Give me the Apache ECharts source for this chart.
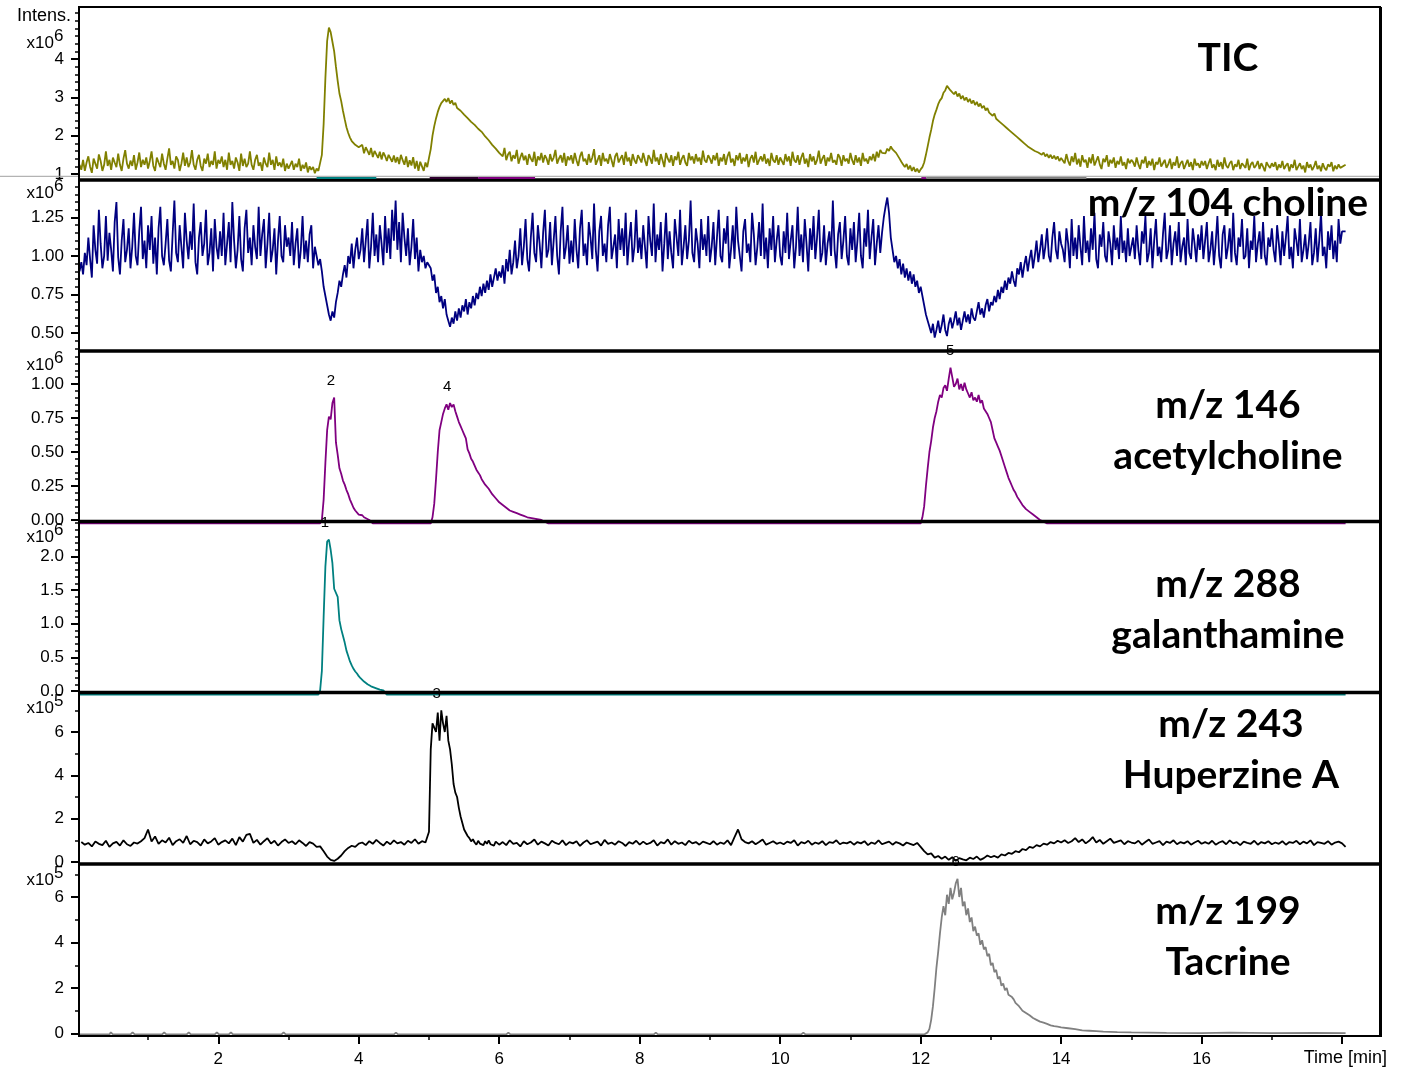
<!DOCTYPE html>
<html><head><meta charset="utf-8">
<script src="https://cdn.jsdelivr.net/npm/echarts@6/dist/echarts.min.js"></script>
<style>html,body{margin:0;padding:0;background:#fff}#c{width:1406px;height:1072px}</style>
</head><body><div id="c"></div><script>
// ---------------- DATA ----------------
// Noisy traces: chunk k covers (k, k+1] min; 40 values -> 0.025 min step, 20 values -> 0.05 min step
// TIC, units 0.01 x10^6
const ticChunks = [
 [124,111,137,108,130,146,119,103,140,127,114,151,134,108,124,159,121,137,111,143,130,118,153,124,108,140,162,127,114,135,121,149,111,130,156,118,137,124,143,114],
 [134,159,121,108,143,130,118,153,127,111,140,167,124,134,114,146,137,108,127,156,121,143,118,130,162,124,111,137,150,121,108,140,127,153,118,134,124,159,114,137],
 [127,146,118,137,111,156,124,134,114,143,130,108,153,121,140,118,127,159,124,111,137,150,121,130,108,143,127,118,156,124,137,111,146,121,130,118,140,108,127,114],
 [124,134,111,127,118,140,108,124,114,130,104,120,111,118,102,114,108,111,150,230,350,447,482,470,445,420,380,343,310,290,265,243,222,207,195,186,182,176,180,170],
 [165,176,154,170,160,150,168,144,160,151,142,158,138,156,147,134,150,141,132,148,130,144,126,150,136,124,146,118,136,122,144,114,134,108,132,120,108,130,118,142],
 [165,200,225,245,262,275,285,290,296,288,298,284,292,280,286,272,276,265,268,255,258,246,250,236,240,228,232,218,222,210,206,198,200,188,184,176,172,166,162,155],
 [155,146,168,136,151,158,133,149,140,163,127,143,155,136,148,124,152,140,132,158,121,146,136,155,130,149,140,124,152,133,143,163,127,140,149,130,155,121,146,136],
 [149,127,155,136,121,146,158,133,140,124,152,130,143,165,124,136,149,121,155,133,140,127,152,136,118,146,155,130,140,149,124,158,133,143,121,152,136,127,149,140],
 [130,155,136,121,149,140,127,163,133,143,124,152,136,118,155,140,130,149,121,146,136,158,124,140,149,130,121,155,136,146,127,152,133,143,124,161,136,130,149,140],
 [127,149,136,155,121,143,133,152,124,146,158,130,140,121,149,136,155,127,143,133,152,118,140,149,130,158,124,136,146,133,152,127,140,121,155,136,130,149,124,143],
 [140,124,152,133,146,121,158,136,130,149,124,143,155,127,140,118,152,133,146,124,136,161,127,140,149,121,143,133,155,130,136,124,152,143,121,149,133,140,127,155],
 [136,124,149,130,143,121,155,133,140,127,146,136,152,133,158,143,163,155,160,154,166,160,172,164,168,155,150,140,132,125,118,126,112,122,108,118,106,114,104,112],
 [118,130,150,172,195,215,238,255,268,282,292,298,312,318,330,325,318,322,308,315,302,310,296,304,292,300,288,296,284,292,280,288,276,284,272,278,266,272,260,264],
 [252,258,244,248,236,240,228,232,220,224,212,215,204,206,196,198,188,190,180,182,172,176,166,170,160,164,156,160,150,156,146,152,142,150,140,148,138,146,134,142],
 [143,128,152,134,122,146,131,155,125,140,119,149,131,137,116,143,128,152,122,134,146,125,113,140,131,149,119,137,128,143,116,134,125,146,122,131,113,140,128,137],
 [131,119,143,125,113,137,128,146,116,134,122,140,110,131,125,143,119,128,137,116,125,140,113,131,122,146,116,128,134,113,125,137,119,131,110,140,122,128,116,134],
 [122,134,113,128,140,116,125,110,137,119,131,113,143,122,116,128,134,110,125,119,137,113,128,122,116,140,110,125,131,116,122,134,113,128,119,107,131,122,116,128],
 [119,131,110,125,116,134,113,122,128,107,125,116,137,110,119,128,113,122,104,131,116,125,110,119,134,113,122,107,128,116,110,125,119,131,107,122,113,125,116,119],
 [124]
];
// m/z 104 choline, units 0.01 x10^6
const cholineChunks = [
 [90,96,88,102,94,112,98,86,120,104,95,130,108,92,100,126,97,115,104,90,122,135,99,88,110,124,96,104,118,92,106,128,100,94,116,132,98,110,92,120],
 [104,126,95,112,88,118,132,100,94,108,124,97,90,114,136,102,96,120,106,92,128,110,98,116,104,134,96,88,112,122,100,108,130,94,102,118,90,124,106,98],
 [116,100,128,94,108,122,96,135,110,92,104,126,98,90,118,130,102,112,94,120,106,98,132,100,114,124,92,108,128,96,104,118,88,110,126,100,96,120,106,112],
 [100,122,94,108,118,92,104,126,98,110,96,114,120,92,106,100,94,98,90,80,74,68,62,58,64,60,70,76,84,80,88,94,86,100,95,108,92,104,112,98],
 [104,118,96,110,124,92,106,128,100,114,96,120,108,94,126,102,118,98,130,110,136,104,122,96,128,112,100,118,94,106,124,98,112,90,104,96,100,92,96,94],
 [92,84,88,76,80,70,74,66,72,62,58,54,60,56,64,58,66,60,68,64,72,62,70,66,74,68,76,72,80,74,82,76,84,78,88,80,86,92,84,90],
 [86,94,82,98,90,104,88,96,110,92,100,118,94,106,124,98,90,112,128,102,96,120,108,92,115,130,99,104,122,94,110,126,100,88,116,132,98,106,120,95],
 [110,96,124,104,92,118,130,100,108,94,122,112,98,134,104,90,116,126,100,108,96,120,132,98,106,114,92,124,104,118,100,128,94,110,122,96,106,130,102,112],
 [98,120,106,92,126,110,100,134,96,114,104,122,90,108,128,98,116,102,92,124,112,100,130,94,106,120,98,110,136,102,96,118,108,92,124,104,114,100,126,96],
 [106,122,94,112,130,100,96,118,108,126,92,104,120,98,132,110,100,90,116,124,102,108,96,128,114,94,106,122,100,134,98,112,92,118,104,126,96,110,120,100],
 [94,116,102,128,98,110,120,92,106,132,100,114,96,124,108,90,118,104,126,98,112,130,96,102,120,94,108,116,100,136,104,92,114,122,98,110,126,100,94,118],
 [104,122,96,110,128,100,92,118,106,130,98,112,124,94,108,120,102,115,125,132,138,128,112,104,96,100,92,98,88,95,86,92,84,90,82,88,80,84,76,80],
 [74,68,62,58,54,50,56,47,52,58,50,55,62,52,48,56,60,53,58,64,55,60,52,58,64,57,62,56,66,60,58,64,70,62,66,60,68,72,64,70],
 [68,74,70,78,72,80,76,84,78,86,82,90,84,80,92,88,96,86,94,100,90,98,104,92,100,110,96,104,114,98,106,118,100,96,112,122,104,98,116,108],
 [104,96,118,108,92,124,100,112,98,120,106,94,126,102,110,96,118,104,128,98,92,114,106,122,100,96,116,108,94,120,104,112,98,126,102,110,96,118,100,106],
 [112,98,120,104,94,116,108,126,96,102,118,92,110,124,100,106,96,114,128,98,104,120,94,108,116,100,122,96,106,112,94,124,102,98,118,108,96,114,104,120],
 [98,110,122,96,104,116,94,108,126,100,92,114,120,98,106,118,96,128,102,94,112,106,124,98,100,118,92,110,104,126,96,108,116,98,122,100,94,112,106,118],
 [104,96,120,108,94,116,100,112,126,98,106,92,118,110,100,124,96,104,114,98,108,122,94,102,118,96,110,128,100,106,92,116,104,120,98,110,96,124,108,116],
 [116]
];
// m/z 243 Huperzine A, units 0.01 x10^5
const huperzineChunks = [
 [92,80,88,72,95,84,78,98,70,86,93,76,100,82,74,90,85,96,110,150],
 [95,118,84,100,90,112,78,96,105,88,120,82,98,92,76,104,86,95,110,80],
 [92,100,86,108,78,115,94,125,130,88,102,80,96,110,85,98,76,92,104,88],
 [96,82,100,88,74,92,85,70,72,50,25,10,5,15,30,50,65,75,70,85],
 [90,78,96,84,102,88,76,94,82,100,86,92,80,98,88,105,84,96,90,140],
 [520,640,620,600,690,560,700,640,600,675,560,520,450,360,320,300,250,210,180,150,
  135,120,110,95,105,90,80,98,85,92,78,96,84,100,82,90,76,94,86,80],
 [92,78,100,84,88,72,96,82,90,104,80,94,86,76,98,88,82,100,78,92],
 [86,96,74,90,100,82,88,94,76,102,84,90,80,96,88,74,92,84,98,80],
 [94,82,88,100,76,92,86,104,80,96,84,90,78,98,86,92,80,94,88,82],
 [96,80,90,84,100,78,115,150,105,92,86,96,82,92,104,80,88,96,84,90],
 [82,94,88,100,76,92,86,98,80,90,84,96,78,92,88,100,82,90,86,94],
 [80,92,86,96,78,90,84,100,82,88,94,80,92,86,76,90,84,78,88,70],
 [50,35,40,20,28,15,25,10,22,5,18,12,8,20,14,25,10,18,30,22],
 [28,20,35,30,42,38,50,45,60,55,70,65,78,72,85,80,92,86,98,90],
 [100,88,96,110,92,104,86,98,115,90,102,84,96,108,88,94,100,82,96,90],
 [86,98,80,92,104,84,90,96,78,94,88,100,82,92,86,96,80,90,98,84],
 [92,84,98,80,90,96,82,100,86,92,78,94,88,84,98,80,92,86,96,82],
 [90,84,96,80,92,88,98,82,94,86,100,78,92,88,84,96,80,90,94,86],
 [70]
];
// m/z 146 acetylcholine [time min, intensity x10^6]
const achPoints = [
 [0.03,-0.025],[3.45,-0.025],[3.475,0.0],[3.5,0.15],[3.525,0.42],[3.55,0.66],[3.575,0.76],[3.6,0.74],[3.625,0.86],[3.65,0.9],[3.675,0.57],[3.7,0.48],[3.725,0.38],[3.75,0.34],[3.775,0.29],[3.8,0.26],[3.825,0.22],[3.85,0.19],[3.875,0.15],[3.9,0.12],[3.925,0.09],[3.95,0.07],[3.975,0.06],[4.0,0.04],[4.025,0.03],[4.05,0.035],[4.075,0.02],[4.1,0.015],[4.15,0.0],[4.2,-0.025],
 [5.025,-0.025],[5.05,0.02],[5.075,0.12],[5.1,0.3],[5.125,0.5],[5.15,0.66],[5.175,0.72],[5.2,0.78],[5.225,0.82],[5.25,0.85],[5.275,0.81],[5.3,0.86],[5.325,0.83],[5.35,0.85],[5.375,0.8],[5.4,0.76],[5.425,0.72],[5.45,0.69],[5.475,0.66],[5.5,0.63],[5.525,0.6],[5.55,0.52],[5.575,0.49],[5.6,0.45],[5.625,0.43],[5.65,0.4],[5.675,0.37],[5.7,0.35],[5.725,0.33],[5.75,0.3],[5.775,0.29],[5.8,0.26],[5.825,0.25],[5.85,0.23],[5.875,0.22],[5.9,0.19],[5.925,0.18],[5.95,0.16],[5.975,0.15],[6.0,0.13],[6.05,0.11],[6.1,0.09],[6.15,0.07],[6.2,0.06],[6.25,0.05],[6.3,0.04],[6.35,0.03],[6.4,0.02],[6.5,0.01],[6.6,0.0],[6.7,-0.025],
 [12.0,-0.025],[12.025,0.02],[12.05,0.1],[12.075,0.25],[12.1,0.38],[12.125,0.5],[12.15,0.58],[12.175,0.68],[12.2,0.75],[12.225,0.8],[12.25,0.87],[12.275,0.92],[12.3,0.9],[12.325,0.97],[12.35,0.99],[12.375,0.95],[12.4,1.04],[12.425,1.12],[12.45,1.05],[12.475,0.98],[12.5,1.0],[12.525,1.04],[12.55,0.96],[12.575,1.0],[12.6,0.95],[12.625,1.01],[12.65,0.96],[12.675,0.93],[12.7,0.9],[12.725,0.94],[12.75,0.88],[12.775,0.9],[12.8,0.87],[12.825,0.92],[12.85,0.86],[12.875,0.88],[12.9,0.82],[12.925,0.8],[12.95,0.78],[12.975,0.75],[13.0,0.72],[13.025,0.66],[13.05,0.6],[13.075,0.57],[13.1,0.54],[13.125,0.51],[13.15,0.47],[13.175,0.43],[13.2,0.39],[13.225,0.35],[13.25,0.31],[13.275,0.28],[13.3,0.25],[13.325,0.22],[13.35,0.2],[13.375,0.17],[13.4,0.15],[13.45,0.11],[13.5,0.08],[13.55,0.06],[13.6,0.04],[13.65,0.02],[13.7,0.0],[13.8,-0.025],[18.05,-0.025]
];
// m/z 288 galanthamine [time, x10^6]
const galPoints = [
 [0.03,-0.055],[3.425,-0.055],[3.45,0.01],[3.475,0.3],[3.5,1.1],[3.525,1.85],[3.55,2.22],[3.575,2.25],[3.6,2.1],[3.625,1.9],[3.65,1.52],[3.675,1.5],[3.7,1.4],[3.725,1.05],[3.75,0.92],[3.775,0.82],[3.8,0.72],[3.825,0.6],[3.85,0.52],[3.875,0.44],[3.9,0.38],[3.925,0.33],[3.95,0.29],[3.975,0.26],[4.0,0.22],[4.025,0.19],[4.05,0.17],[4.075,0.14],[4.1,0.12],[4.125,0.1],[4.15,0.09],[4.175,0.07],[4.2,0.06],[4.25,0.04],[4.3,0.02],[4.35,0.01],[4.4,-0.055],[18.05,-0.055]
];
// m/z 199 tacrine [time, x10^5]
const tacPoints = [
 [0.03,-0.04],[0.45,-0.04],[0.47,0.05],[0.5,-0.04],[0.75,-0.04],[0.78,0.05],[0.81,-0.04],[1.2,-0.04],[1.23,0.05],[1.26,-0.04],[1.55,-0.04],[1.58,0.05],[1.61,-0.04],[1.95,-0.04],[1.98,0.05],[2.01,-0.04],[2.15,-0.04],[2.18,0.05],[2.21,-0.04],[2.9,-0.04],[2.93,0.05],[2.96,-0.04],[4.5,-0.04],[4.53,0.04],[4.56,-0.04],[6.1,-0.04],[6.13,0.04],[6.16,-0.04],[8.2,-0.04],[8.23,0.04],[8.26,-0.04],[10.3,-0.04],[10.33,0.04],[10.36,-0.04],[12.05,-0.04],
 [12.1,0.05],[12.125,0.2],[12.15,0.6],[12.175,1.2],[12.2,2.0],[12.225,2.9],[12.25,3.6],[12.275,4.4],[12.3,5.1],[12.325,5.6],[12.35,5.2],[12.375,6.1],[12.4,5.7],[12.425,6.4],[12.45,5.9],[12.475,6.2],[12.5,6.6],[12.525,6.8],[12.55,6.0],[12.575,6.4],[12.6,5.6],[12.625,5.8],[12.65,5.2],[12.675,5.5],[12.7,4.9],[12.725,5.1],[12.75,4.5],[12.775,4.7],[12.8,4.3],[12.825,4.4],[12.85,3.9],[12.875,4.1],[12.9,3.7],[12.925,3.8],[12.95,3.4],[12.975,3.5],[13.0,3.0],[13.025,3.1],[13.05,2.7],[13.075,2.8],[13.1,2.4],[13.125,2.5],[13.15,2.1],[13.175,2.2],[13.2,1.9],[13.225,2.0],[13.25,1.7],[13.275,1.75],[13.3,1.6],[13.325,1.5],[13.35,1.35],[13.375,1.4],[13.4,1.2],[13.45,1.0],[13.5,0.9],[13.55,0.8],[13.6,0.68],[13.65,0.6],[13.7,0.52],[13.75,0.48],[13.8,0.42],[13.85,0.36],[13.9,0.32],[13.95,0.3],[14.0,0.27],[14.1,0.23],[14.2,0.19],[14.3,0.14],[14.4,0.12],[14.5,0.1],[14.6,0.08],[14.8,0.06],[15.0,0.05],[15.5,0.03],[16.0,0.02],[16.4,0.04],[17.0,0.02],[17.6,0.03],[18.05,0.02]
];
// integration ranges shown under the TIC [start, end] min
const integrationRanges = [[3.40,4.25],[5.01,5.70],[5.70,6.51],[12.01,12.08],[12.08,14.36]];
const integrationColors = ['#008080','#300030','#800080','#800080','#808080'];
// peak labels: [text, panel, time, apex intensity]
const peakLabels = [['1',3,3.52,2.25],['2',2,3.605,0.9],['3',4,5.11,7.0],['4',2,5.26,0.86],['5',2,12.42,1.12],['6',5,12.5,6.8]];
// axes ticks
const yMajor = [[1,2,3,4],[0.5,0.75,1,1.25],[0,0.25,0.5,0.75,1],[0,0.5,1,1.5,2],[0,2,4,6],[0,2,4,6]];
const yDecimals = [0,2,2,1,0,0];
const yMinorStep = [0.2,0.05,0.05,0.1,1,1];
const yExponent = ['6','6','6','6','5','5'];
const xMajor = [2,4,6,8,10,12,14,16,18];
const xMinor = [1,3,5,7,9,11,13,15,17];
const xLabels = [2,4,6,8,10,12,14,16];
const titleLines = [['TIC'],['m/z 104 choline'],['m/z 146','acetylcholine'],['m/z 288','galanthamine'],['m/z 243','Huperzine A'],['m/z 199','Tacrine']];

// ---------------- LAYOUT ----------------
const FONT = '"Liberation Sans", Arial, sans-serif';
const TFONT = 'bold 39px Lato, "Open Sans", sans-serif';
const L = 79, W = 1301;
const edges = [7, 180, 351, 521.5, 692.5, 864, 1036];
const yRange = [[0.843,5.357],[0.383,1.4935],[-0.011,1.2426],[-0.0223,2.52],[-0.092,7.822],[-0.11,7.451]];
const xMin = 0.017, xMax = 18.54;
const colors = ['#808000','#000080','#800080','#008080','#000000','#808080'];
const titleX = [1228,1228,1228,1228,1231,1228];
const titleY = [[58],[203],[405,456],[584,635],[724,775],[911,962]];
const expY = [43,193,365,537,708,880];

function expand(chunks, scale) {
  const out = [];
  chunks.forEach((c, k) => {
    const step = c.length >= 20 ? 1 / c.length : 0.05;
    c.forEach((v, j) => out.push([+(k + (j + 1) * step).toFixed(4), +(v * scale).toFixed(4)]));
  });
  return out;
}
const seriesData = [expand(ticChunks, 0.01), expand(cholineChunks, 0.01), achPoints, galPoints, expand(huperzineChunks, 0.01), tacPoints];

const grids = [], xAxes = [], yAxes = [], series = [], graphic = [];
for (let i = 0; i < 6; i++) {
  grids.push({left: L, width: W, top: edges[i], height: edges[i+1] - edges[i]});
  xAxes.push({type:'value', gridIndex:i, min:xMin, max:xMax, show: i === 5, position:'bottom',
    axisLine:{show:true, onZero:false, lineStyle:{color:'#000', width:2}},
    axisTick:{show:true, length:8, customValues:xMajor, lineStyle:{color:'#000', width:2}},
    axisLabel:{show:true, customValues:xLabels, margin:15, fontSize:17, fontFamily:FONT, color:'#000'},
    splitLine:{show:false}});
  const [mn, mx] = yRange[i];
  const minor = [];
  const st = yMinorStep[i];
  for (let v = Math.ceil(mn / st) * st; v <= mx + 1e-9; v += st) minor.push(+v.toFixed(4));
  yAxes.push({type:'value', gridIndex:i, min:mn, max:mx, position:'left',
    axisLine:{show:false, onZero:false}, splitLine:{show:false},
    axisTick:{show:true, length:8, customValues:yMajor[i], lineStyle:{color:'#000', width:2}},
    axisLabel:{show:true, customValues:yMajor[i], margin:15, fontSize:17, fontFamily:FONT, color:'#000',
      formatter: (v) => Number(v).toFixed(yDecimals[i])}});
  yAxes.push({type:'value', gridIndex:i, min:mn, max:mx, position:'left',
    axisLine:{show:false, onZero:false}, splitLine:{show:false}, axisLabel:{show:false},
    axisTick:{show:true, length:4, customValues:minor, lineStyle:{color:'#000', width:1.5}}});
  const mp = peakLabels.filter(p => p[1] === i).map(p => ({name:p[0], coord:[p[2], p[3]]}));
  series.push({type:'line', xAxisIndex:i, yAxisIndex:2*i, data:seriesData[i], showSymbol:false, symbol:'none',
    clip: !(i === 2 || i === 3), z: 3,
    lineStyle:{color:colors[i], width:1.8}, itemStyle:{color:colors[i]}, animation:false,
    markPoint: mp.length ? {symbol:'circle', symbolSize:2, silent:true, z:8, itemStyle:{color:'rgba(0,0,0,0)'},
      label:{show:true, position:'top', distance:8, color:'#000', fontSize:15, fontFamily:FONT, formatter:'{b}'},
      data: mp} : undefined});
  graphic.push({type:'text', z:60, style:{text:'x10', x:54, y:expY[i], font:'17px ' + FONT, fill:'#000',
    align:'right', verticalAlign:'middle', textAlign:'right', textVerticalAlign:'middle'}});
  graphic.push({type:'text', z:60, style:{text:yExponent[i], x:54, y:expY[i] - 6.5, font:'17px ' + FONT, fill:'#000',
    align:'left', verticalAlign:'middle', textAlign:'left', textVerticalAlign:'middle'}});
  titleLines[i].forEach((t, j) => graphic.push({type:'text', z:60, style:{text:t, x:titleX[i], y:titleY[i][j], font:TFONT, fill:'#000',
    align:'center', verticalAlign:'middle', textAlign:'center', textVerticalAlign:'middle'}}));
}
xAxes.push({type:'value', gridIndex:5, min:xMin, max:xMax, position:'bottom',
  axisLine:{show:false, onZero:false}, axisLabel:{show:false}, splitLine:{show:false},
  axisTick:{show:true, length:4, customValues:xMinor, lineStyle:{color:'#000', width:1.5}}});
integrationRanges.forEach((r, k) => series.push({type:'line', xAxisIndex:0, yAxisIndex:0, symbol:'none', animation:false, z:6,
  data:[[r[0], 0.893], [r[1], 0.893]], lineStyle:{color:integrationColors[k], width:2}}));

graphic.push({type:'line', z:4, shape:{x1:0, y1:176.3, x2:L + W, y2:176.3}, style:{stroke:'#a0a0a0', lineWidth:1}});
graphic.push({type:'rect', z:4, shape:{x:L, y:edges[0], width:W, height:edges[6] - edges[0]}, style:{fill:null, stroke:'#000', lineWidth:2}});
graphic.push({type:'line', z:4, shape:{x1:L + W + 0.5, y1:edges[0], x2:L + W + 0.5, y2:edges[6] + 1}, style:{stroke:'#000', lineWidth:3}});
for (let i = 1; i < 6; i++) graphic.push({type:'line', z:4, shape:{x1:L, y1:edges[i], x2:L + W, y2:edges[i]}, style:{stroke:'#000', lineWidth:3.5}});
graphic.push({type:'text', z:60, style:{text:'Intens.', x:71, y:16, font:'18px ' + FONT, fill:'#000', align:'right', verticalAlign:'middle', textAlign:'right', textVerticalAlign:'middle'}});
graphic.push({type:'text', z:60, style:{text:'Time [min]', x:1387, y:1058, font:'18px ' + FONT, fill:'#000', align:'right', verticalAlign:'middle', textAlign:'right', textVerticalAlign:'middle'}});

const chart = echarts.init(document.getElementById('c'));
chart.setOption({animation:false, backgroundColor:'#fff', grid:grids, xAxis:xAxes, yAxis:yAxes, series:series, graphic:graphic});
</script></body></html>
